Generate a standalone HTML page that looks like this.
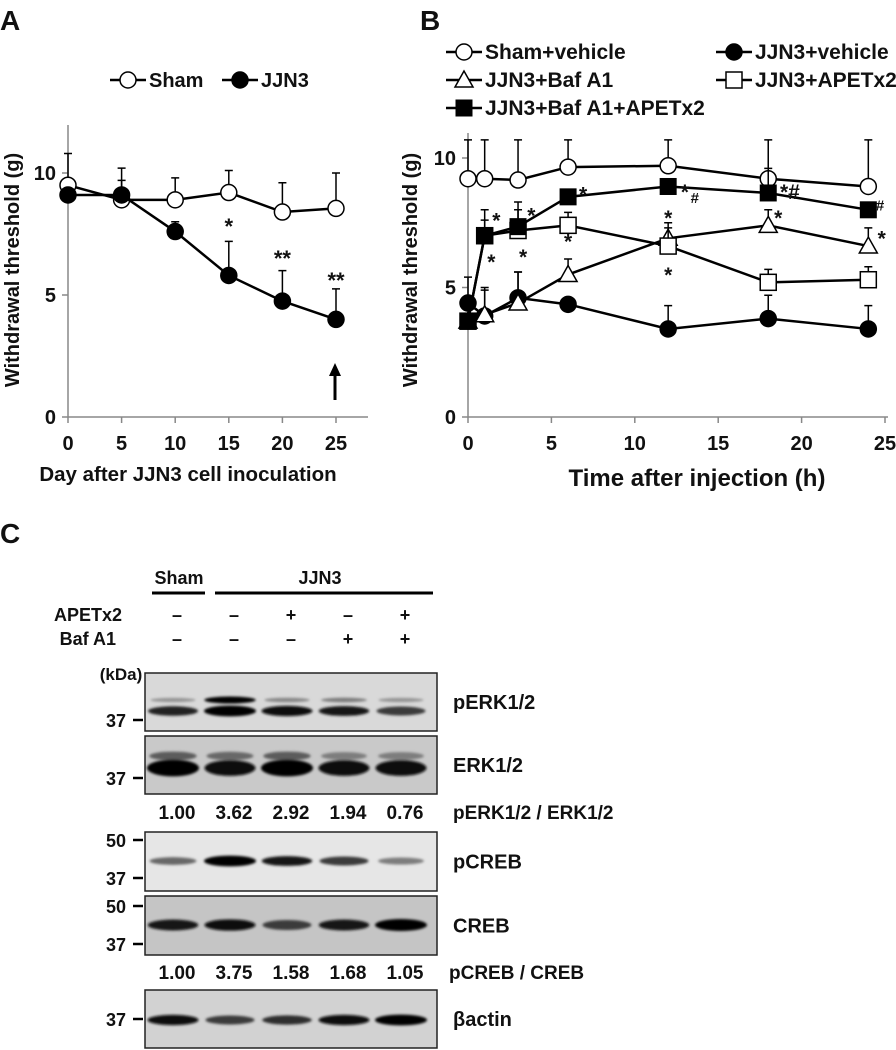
<!DOCTYPE html>
<html><head><meta charset="utf-8">
<style>
html,body{margin:0;padding:0;background:#fff;}
svg{display:block;font-family:"Liberation Sans",Arial,sans-serif;font-weight:bold;}
</style></head>
<body>
<svg id="fig" width="896" height="1050" viewBox="0 0 896 1050" xmlns="http://www.w3.org/2000/svg">
<defs>
<filter id="blur" x="-20%" y="-200%" width="140%" height="500%"><feGaussianBlur stdDeviation="1.4"/></filter>
</defs>
<g id="pa"></g>
<g id="pb"></g>
<g id="pc"></g>
</svg>
<script>
// ---- Panel A data ----
const aDays = [0, 5, 10, 15, 20, 25];
const aSham = [9.5, 8.9, 8.9, 9.2, 8.4, 8.55];
const aShamErr = [10.8, 9.7, 9.8, 10.1, 9.6, 10.0];
const aJJN3 = [9.1, 9.1, 7.6, 5.8, 4.75, 4.0];
const aJJN3Err = [9.1, 10.2, 8.0, 7.2, 6.0, 5.25];
const aXTicks = [0, 5, 10, 15, 20, 25];
const aYTicks = [0, 5, 10];
const aStars = [[15, 7.9, "*"], [20, 6.6, "**"], [25, 5.7, "**"]];

// ---- Panel B data ----
const bTimes = [0, 1, 3, 6, 12, 18, 24];
const bSham = [9.2, 9.2, 9.15, 9.65, 9.7, 9.2, 8.9];
const bShamErr = [10.7, 10.7, 10.7, 10.7, 10.7, 10.7, 10.7];
const bVeh = [4.4, 3.9, 4.6, 4.35, 3.4, 3.8, 3.4];
const bVehErr = [5.4, 4.9, 5.6, 4.35, 4.3, 4.7, 4.3];
const bBaf = [3.7, 3.95, 4.4, 5.5, 6.9, 7.4, 6.6];
const bBafErr = [3.7, 5.0, 5.6, 6.1, 7.5, 8.0, 7.3];
const bApe = [3.7, 7.0, 7.2, 7.4, 6.6, 5.2, 5.3];
const bApeErr = [3.7, 7.6, 8.0, 7.9, 7.3, 5.7, 5.8];
const bBoth = [3.7, 7.0, 7.35, 8.5, 8.9, 8.65, 8.0];
const bBothErr = [3.7, 8.0, 8.3, 8.5, 8.9, 9.6, 8.0];
const bXTicks = [0, 5, 10, 15, 20, 25];
const bYTicks = [0, 5, 10];
const bStars = [[1.7,7.7,"*"],[1.4,6.1,"*"],[3.8,7.9,"*"],[3.3,6.3,"*"],[6.9,8.7,"*"],[6.0,6.9,"*"],[13.0,8.8,"*"],[12.0,7.8,"*"],[12.0,5.6,"*"],[18.6,7.8,"*"],[24.8,7.0,"*"],[19.3,8.8,"*#"]];
const bHash = [[13.6,8.5],[24.7,8.2]];

// ---- Panel C data ----
const cRatioERK = ["1.00","3.62","2.92","1.94","0.76"];
const cRatioCREB = ["1.00","3.75","1.58","1.68","1.05"];
const cApet = ["–","–","+","–","+"];
const cBaf = ["–","–","–","+","+"];
const cPERKlow = [0.8, 1.0, 0.9, 0.85, 0.7];
const cPERKhigh = [0.3, 0.95, 0.35, 0.4, 0.3];
const cERKlow = [1.0, 0.9, 1.0, 0.9, 0.9];
const cERKhigh = [0.55, 0.5, 0.55, 0.4, 0.4];
const cPCREB = [0.5, 1.0, 0.85, 0.7, 0.4];
const cCREB = [0.85, 0.9, 0.7, 0.85, 1.0];
const cActin = [0.9, 0.7, 0.75, 0.9, 1.0];

const NS = "http://www.w3.org/2000/svg";
function mk(parent, tag, attrs) {
  const e = document.createElementNS(NS, tag);
  for (const k in attrs) e.setAttribute(k, attrs[k]);
  parent.appendChild(e);
  return e;
}
function txt(parent, x, y, s, size, anchor) {
  const t = mk(parent, "text", {x: x, y: y, "font-size": size, "text-anchor": anchor || "middle", fill: "#111"});
  t.textContent = s;
  return t;
}
function marker(g, type, cx, cy) {
  let m;
  if (type === "oc") m = mk(g, "circle", {cx: cx, cy: cy, r: 8, fill: "#fff", stroke: "#000", "stroke-width": 1.5});
  else if (type === "fc") m = mk(g, "circle", {cx: cx, cy: cy, r: 8, fill: "#000", stroke: "#000", "stroke-width": 1.5});
  else if (type === "ot") m = mk(g, "polygon", {points: `${cx},${cy-9} ${cx-9},${cy+7} ${cx+9},${cy+7}`, fill: "#fff", stroke: "#000", "stroke-width": 1.5});
  else if (type === "os") m = mk(g, "rect", {x: cx-8, y: cy-8, width: 16, height: 16, fill: "#fff", stroke: "#000", "stroke-width": 1.5});
  else m = mk(g, "rect", {x: cx-8.5, y: cy-8.5, width: 17, height: 17, fill: "#000"});
  return m;
}
function series(g, name, xs, ys, errs, type, X, Y) {
  const sg = mk(g, "g", {});
  
  
  xs.forEach((x, i) => {
    if (errs[i] > ys[i]) {
      const eb = mk(sg, "path", {d: `M${X(x)},${Y(ys[i])}V${Y(errs[i])}M${X(x)-4},${Y(errs[i])}H${X(x)+4}`, stroke: "#000", "stroke-width": 1.5, fill: "none"});
      
      
    }
  });
  const pl = mk(sg, "polyline", {points: xs.map((x, i) => X(x) + "," + Y(ys[i])).join(" "), fill: "none", stroke: "#000", "stroke-width": 2.5});
  
  
  xs.forEach((x, i) => {
    const m = marker(sg, type, X(x), Y(ys[i]));
    
    
  });
}
function axes(g, X, Y, x0, xEnd, yTop, xt, yt) {
  const ax = mk(g, "path", {d: `M${x0},${yTop}V${Y(0)}H${xEnd}`, stroke: "#888", "stroke-width": 1.5, fill: "none"});
  
  
  xt.forEach(v => {
    mk(g, "line", {x1: X(v), x2: X(v), y1: Y(0), y2: Y(0)+6, stroke: "#888", "stroke-width": 1.5});
    const t = txt(g, X(v), Y(0)+33, String(v), 20);
    
    
  });
  yt.forEach(v => {
    mk(g, "line", {x1: x0-6, x2: x0, y1: Y(v), y2: Y(v), stroke: "#888", "stroke-width": 1.5});
    const t = txt(g, x0-12, Y(v)+7, String(v), 20, "end");
    
    
  });
}
function legendItem(g, name, x, y, type, label, size) {
  const lg = mk(g, "g", {});
  
  
  mk(lg, "line", {x1: x, x2: x+36, y1: y, y2: y, stroke: "#000", "stroke-width": 2.5});
  marker(lg, type, x+18, y);
  txt(lg, x+39, y+7, label, size, "start");
}

// ===== Panel A =====
(function(){
  const g = document.getElementById("pa");
  const X = v => 68 + v * (336 - 68) / 25;
  const Y = v => 417 - v * (417 - 173) / 10;
  const l = txt(g, 0, 30, "A", 28, "start");
   
  axes(g, X, Y, 68, 368, 125, aXTicks, aYTicks);
  const yt = txt(g, 0, 0, "Withdrawal threshold (g)", 20);
  yt.setAttribute("transform", "translate(19,270) rotate(-90)");
   
  const xt = txt(g, 188, 481, "Day after JJN3 cell inoculation", 20.5);
   
  series(g, "sham-series", aDays, aSham, aShamErr, "oc", X, Y);
  series(g, "jjn3-series", aDays, aJJN3, aJJN3Err, "fc", X, Y);
  aStars.forEach(s => {
    const t = txt(g, X(s[0]), Y(s[1]) + 10, s[2], 22);
     
  });
  const ar = mk(g, "path", {d: `M${X(25)-1},400V372`, stroke: "#000", "stroke-width": 3});
   
  mk(g, "polygon", {points: `${X(25)-1},363 ${X(25)-7},376 ${X(25)+5},376`, fill: "#000"});
  legendItem(g, "legend-sham", 110, 80, "oc", "Sham", 20);
  legendItem(g, "legend-jjn3", 222, 80, "fc", "JJN3", 20);
})();

// ===== Panel B =====
(function(){
  const g = document.getElementById("pb");
  const X = v => 468 + v * (885 - 468) / 25;
  const Y = v => 417 - v * (417 - 158) / 10;
  const l = txt(g, 420, 30, "B", 28, "start");
   
  axes(g, X, Y, 468, 888, 133, bXTicks, bYTicks);
  const yt = txt(g, 0, 0, "Withdrawal threshold (g)", 20);
  yt.setAttribute("transform", "translate(417,270) rotate(-90)");
   
  const xt = txt(g, 697, 486, "Time after injection (h)", 24);
   
  series(g, "sham-vehicle-series", bTimes, bSham, bShamErr, "oc", X, Y);
  series(g, "jjn3-vehicle-series", bTimes, bVeh, bVehErr, "fc", X, Y);
  series(g, "jjn3-bafa1-series", bTimes, bBaf, bBafErr, "ot", X, Y);
  series(g, "jjn3-apetx2-series", bTimes, bApe, bApeErr, "os", X, Y);
  series(g, "jjn3-bafa1-apetx2-series", bTimes, bBoth, bBothErr, "fs", X, Y);
  bStars.forEach(s => {
    const t = txt(g, X(s[0]), Y(s[1]) + 10, s[2], 21);
     
  });
  bHash.forEach(s => {
    const t = txt(g, X(s[0]), Y(s[1]) + 6, "#", 15);
     
  });
  legendItem(g, "legend-sham-vehicle", 446, 52, "oc", "Sham+vehicle", 21);
  legendItem(g, "legend-jjn3-vehicle", 716, 52, "fc", "JJN3+vehicle", 21);
  legendItem(g, "legend-jjn3-bafa1", 446, 80, "ot", "JJN3+Baf A1", 21);
  legendItem(g, "legend-jjn3-apetx2", 716, 80, "os", "JJN3+APETx2", 21);
  legendItem(g, "legend-jjn3-bafa1-apetx2", 446, 108, "fs", "JJN3+Baf A1+APETx2", 21);
})();

// ===== Panel C =====
(function(){
  const g = document.getElementById("pc");
  const lanes = [177, 234, 291, 348, 405];
  const l = txt(g, 0, 543, "C", 28, "start");
   
  let t = txt(g, 179, 584, "Sham", 18);
   
  t = txt(g, 320, 584, "JJN3", 18);
   
  mk(g, "line", {x1: 152, x2: 205, y1: 593, y2: 593, stroke: "#000", "stroke-width": 3});
  mk(g, "line", {x1: 215, x2: 433, y1: 593, y2: 593, stroke: "#000", "stroke-width": 3});
  t = txt(g, 122, 621, "APETx2", 18, "end");
   
  t = txt(g, 116, 645, "Baf A1", 18, "end");
   
  lanes.forEach((x, i) => {
    let s = txt(g, x, 621, cApet[i], 18);
     
    s = txt(g, x, 645, cBaf[i], 18);
     
  });
  t = txt(g, 121, 680, "(kDa)", 17);
   

  function blot(name, y0, y1, bg, label, bands, marks) {
    const bgp = mk(g, "g", {});
    
    
    mk(bgp, "rect", {x: 145, y: y0, width: 292, height: y1 - y0, fill: bg, stroke: "#222", "stroke-width": 1.5});
    bands.forEach(b => {
      b.vals.forEach((v, i) => {
        const c = Math.max(0, Math.round(215 - 225 * v));
        const e = mk(bgp, "ellipse", {cx: lanes[i] - 4, cy: b.y, rx: 21 + 5 * v, ry: b.h * (0.5 + 0.7 * v), fill: `rgb(${c},${c},${c})`, filter: "url(#blur)"});
        
        
      });
    });
    const lt = txt(g, 453, (y0 + y1) / 2 + 7, label, 20, "start");
     
    marks.forEach(m => {
      mk(g, "line", {x1: 133, x2: 143, y1: m[1], y2: m[1], stroke: "#000", "stroke-width": 2.5});
      const mt = txt(g, 126, m[1] + 7, m[0], 18, "end");
       
    });
  }
  blot("perk", 673, 731, "#d9d9d9", "pERK1/2", [{y: 700, h: 3, vals: cPERKhigh}, {y: 711, h: 4.5, vals: cPERKlow}], [["37", 720]]);
  blot("erk", 736, 794, "#c9c9c9", "ERK1/2", [{y: 756, h: 5, vals: cERKhigh}, {y: 768, h: 7, vals: cERKlow}], [["37", 778]]);
  blot("pcreb", 832, 891, "#e6e6e6", "pCREB", [{y: 861, h: 4.5, vals: cPCREB}], [["50", 840], ["37", 878]]);
  blot("creb", 896, 955, "#c5c5c5", "CREB", [{y: 925, h: 5, vals: cCREB}], [["50", 906], ["37", 944]]);
  blot("beta-actin", 990, 1048, "#d2d2d2", "βactin", [{y: 1020, h: 4.5, vals: cActin}], [["37", 1019]]);

  lanes.forEach((x, i) => {
    let s = txt(g, x, 819, cRatioERK[i], 19);
     
    s = txt(g, x, 979, cRatioCREB[i], 19);
     
  });
  t = txt(g, 453, 819, "pERK1/2 / ERK1/2", 19, "start");
   
  t = txt(g, 449, 979, "pCREB / CREB", 19, "start");
   
})();
</script>
</body></html>
